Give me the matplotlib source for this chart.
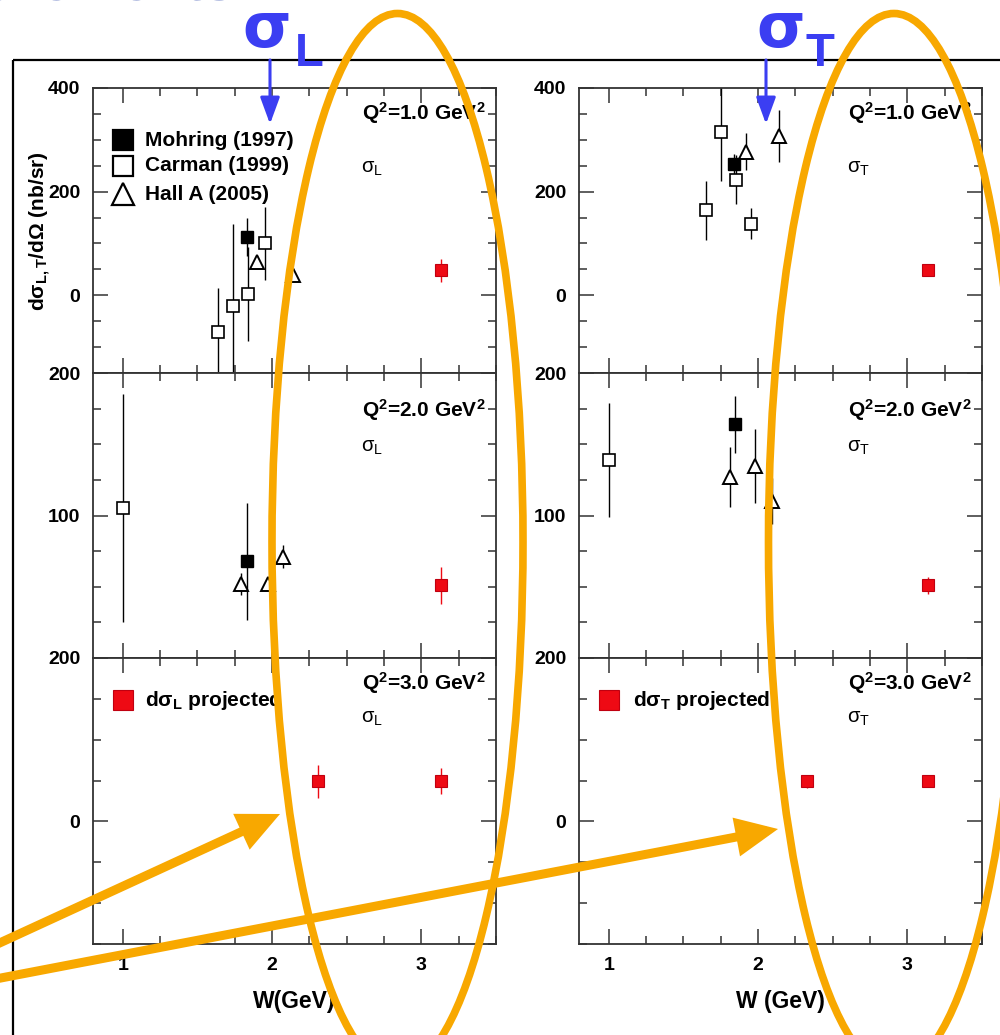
import matplotlib
matplotlib.use('Agg')
import matplotlib.pyplot as plt
from matplotlib.ticker import MultipleLocator, FuncFormatter
from matplotlib.patches import Ellipse, FancyArrowPatch, Rectangle

plt.rcParams['font.family'] = ['Liberation Sans', 'DejaVu Sans']
plt.rcParams['font.weight'] = 'bold'
plt.rcParams['mathtext.default'] = 'regular'

# ---------------- data (W in GeV, cross sections in nb/sr) ----------------
# Q^2 = 1.0 GeV^2, sigma_L
mohring_L1_W, mohring_L1, mohring_L1_err = [1.83], [112], [37]
carman_L1_W, carman_L1, carman_L1_err = [1.64, 1.74, 1.84, 1.95], [-70, -21, 2, 100], [84, 158, 91, 70]
halla_L1_W, halla_L1, halla_L1_err = [1.90, 2.14], [64, 39], [12, 8]
proj_L1_W, proj_L1, proj_L1_err = [3.13], [48], [22]
# Q^2 = 1.0 GeV^2, sigma_T
mohring_T1_W, mohring_T1, mohring_T1_err = [1.84], [253], [20]
carman_T1_W, carman_T1, carman_T1_err = [1.65, 1.75, 1.85, 1.955], [164, 315, 223, 138], [57, 95, 47, 30]
halla_T1_W, halla_T1, halla_T1_err = [1.92, 2.14], [277, 308], [36, 50]
proj_T1_W, proj_T1, proj_T1_err = [3.14], [48], [8]
# Q^2 = 2.0 GeV^2, sigma_L
mohring_L2_W, mohring_L2, mohring_L2_err = [1.83], [68], [41]
carman_L2_W, carman_L2, carman_L2_err = [1.0], [105], [80]
halla_L2_W, halla_L2, halla_L2_err = [1.79, 1.97, 2.07], [52, 52, 71], [8, 5, 8]
proj_L2_W, proj_L2, proj_L2_err = [3.13], [51], [13]
# Q^2 = 2.0 GeV^2, sigma_T
mohring_T2_W, mohring_T2, mohring_T2_err = [1.845], [164], [20]
carman_T2_W, carman_T2, carman_T2_err = [1.0], [139], [40]
halla_T2_W, halla_T2, halla_T2_err = [1.81, 1.98, 2.09], [127, 135, 110], [21, 26, 16]
proj_T2_W, proj_T2, proj_T2_err = [3.14], [51], [6]
# Q^2 = 3.0 GeV^2 (projections only)
proj_L3_W, proj_L3, proj_L3_err = [2.31, 3.13], [49, 49], [20, 16]
proj_T3_W, proj_T3, proj_T3_err = [2.33, 3.14], [49, 49], [8, 3]

q2_labels = ['1.0', '2.0', '3.0']
legend_labels = ['Mohring (1997)', 'Carman (1999)', 'Hall A (2005)']
proj_labels = [r'd$\sigma_L$ projected', r'd$\sigma_T$ projected']
xlabels = ['W(GeV)', 'W (GeV)']
ylabel = r'd$\sigma_{L,T}$/d$\Omega$ (nb/sr)'

ORANGE = '#F8A800'
BLUE = '#3b3ef2'
RED = '#ee0a14'
AXC = '#333333'

# ---------------- figure ----------------
W_PX, H_PX = 1000, 1035
fig = plt.figure(figsize=(W_PX / 100, H_PX / 100), dpi=100)
fig.patch.set_facecolor('white')

col_left = [93, 579]
col_w = 403
row_top = [88, 373, 658]
row_bot = [373, 658, 944]
ylims = [(-150, 400), (0, 200), (-150, 200)]
ymaj = [200, 100, 200]
ymin = [50, 25, 50]
ylab_shown = [{0, 200, 400}, {100, 200}, {0, 200}]
q2_base = [0.888, 0.846, 0.888]
sig_base = [0.702, 0.724, 0.774]

series = {
    (0, 0): [(mohring_L1_W, mohring_L1, mohring_L1_err), (carman_L1_W, carman_L1, carman_L1_err),
             (halla_L1_W, halla_L1, halla_L1_err), (proj_L1_W, proj_L1, proj_L1_err)],
    (0, 1): [(mohring_T1_W, mohring_T1, mohring_T1_err), (carman_T1_W, carman_T1, carman_T1_err),
             (halla_T1_W, halla_T1, halla_T1_err), (proj_T1_W, proj_T1, proj_T1_err)],
    (1, 0): [(mohring_L2_W, mohring_L2, mohring_L2_err), (carman_L2_W, carman_L2, carman_L2_err),
             (halla_L2_W, halla_L2, halla_L2_err), (proj_L2_W, proj_L2, proj_L2_err)],
    (1, 1): [(mohring_T2_W, mohring_T2, mohring_T2_err), (carman_T2_W, carman_T2, carman_T2_err),
             (halla_T2_W, halla_T2, halla_T2_err), (proj_T2_W, proj_T2, proj_T2_err)],
    (2, 0): [None, None, None, (proj_L3_W, proj_L3, proj_L3_err)],
    (2, 1): [None, None, None, (proj_T3_W, proj_T3, proj_T3_err)],
}

styles = [
    dict(marker='s', ms=9, mfc='black', mec='black', mew=1.0, ecolor='black'),
    dict(marker='s', ms=9, mfc='white', mec='black', mew=1.2, ecolor='black'),
    dict(marker='^', ms=10, mfc='white', mec='black', mew=1.4, ecolor='black'),
    dict(marker='s', ms=9, mfc=RED, mec='#c00010', mew=0.8, ecolor=RED),
]

for r in range(3):
    for c in range(2):
        left = col_left[c] / W_PX
        bottom = 1 - row_bot[r] / H_PX
        height = (row_bot[r] - row_top[r]) / H_PX
        ax = fig.add_axes([left, bottom, col_w / W_PX, height])
        for s, st in zip(series[(r, c)], styles):
            if s is None:
                continue
            x, y, e = s
            ax.errorbar(x, y, yerr=e, fmt='none', ecolor=st['ecolor'], elinewidth=1.0, capsize=0, zorder=2)
            ax.plot(x, y, linestyle='none', marker=st['marker'], ms=st['ms'], mfc=st['mfc'],
                    mec=st['mec'], mew=st['mew'], zorder=3)
        ax.set_xlim(0.8, 3.5)
        ax.set_ylim(*ylims[r])
        ax.xaxis.set_major_locator(MultipleLocator(1))
        ax.xaxis.set_minor_locator(MultipleLocator(0.25))
        ax.yaxis.set_major_locator(MultipleLocator(ymaj[r]))
        ax.yaxis.set_minor_locator(MultipleLocator(ymin[r]))
        shown = ylab_shown[r]
        ax.yaxis.set_major_formatter(FuncFormatter(lambda v, p, shown=shown: f'{v:.0f}' if round(v) in shown else ''))
        ax.tick_params(which='both', direction='in', top=True, right=True, colors=AXC,
                       labelcolor='black', labelsize=14, width=1.1)
        ax.tick_params(which='major', length=10.8, pad=9)
        ax.tick_params(which='minor', length=5.8)
        if r < 2:
            ax.tick_params(labelbottom=False)
        else:
            ax.set_xlabel(xlabels[c], fontsize=16.5, fontweight='bold', labelpad=12)
        for sp in ax.spines.values():
            sp.set_color(AXC)
            sp.set_linewidth(1.3)
        ax.text(0.667, q2_base[r], r'Q$^2$=' + q2_labels[r] + r' GeV$^2$', transform=ax.transAxes,
                fontsize=15, fontweight='bold', ha='left', va='baseline')
        ax.text(0.665, sig_base[r], r'$\sigma_L$' if c == 0 else r'$\sigma_T$', transform=ax.transAxes,
                fontsize=14.5, fontweight='normal', ha='left', va='baseline')

        # legends
        if r == 0 and c == 0:
            ys = [0.816, 0.727, 0.627]
            for yy, lab, st in zip(ys, legend_labels, styles[:3]):
                ax.plot([0.074], [yy], transform=ax.transAxes, linestyle='none', marker=st['marker'],
                        ms=14.5 if st['marker'] == 's' else 15.5, mfc=st['mfc'], mec='black', mew=1.6,
                        clip_on=False)
                ax.text(0.129, yy, lab, transform=ax.transAxes, fontsize=15, fontweight='bold',
                        ha='left', va='center')
        if r == 2:
            ax.plot([0.074], [0.853], transform=ax.transAxes, linestyle='none', marker='s', ms=14.5,
                    mfc=RED, mec='#c00010', mew=0.8, clip_on=False)
            ax.text(0.129 if c == 0 else 0.134, 0.853, proj_labels[c], transform=ax.transAxes,
                    fontsize=15, fontweight='bold', ha='left', va='center')
        ax.set_xlim(0.8, 3.5)
        ax.set_ylim(*ylims[r])

fig.text(40 / W_PX, 1 - 231 / H_PX, ylabel, rotation=90, fontsize=15, fontweight='bold',
         ha='center', va='center')

# ---------------- slide overlay (frame, highlights, arrows) ----------------
ov = fig.add_axes([0, 0, 1, 1], zorder=20)
ov.set_xlim(0, W_PX)
ov.set_ylim(H_PX, 0)
ov.axis('off')

ov.add_patch(Rectangle((13, 60), 1020, 1000, fill=False, ec='black', lw=1.6))
ov.text(235, 0, 'Measurements', fontsize=40, fontweight='bold', color='#7082c6',
        ha='right', va='baseline')

for cx, lab, sub in [(242, 'σ', 'L'), (756, 'σ', 'T')]:
    ov.text(cx, 47, lab, fontsize=45, fontweight='bold', color=BLUE, ha='left', va='baseline',
            family=['DejaVu Sans'])
    ov.text(cx + (53 if sub == 'L' else 49), 66, sub, fontsize=34, fontweight='bold', color=BLUE,
            ha='left', va='baseline')

for ax_x in [270, 766]:
    ov.add_patch(FancyArrowPatch((ax_x, 60), (ax_x, 124),
                                 arrowstyle='-|>,head_length=0.9,head_width=0.33', mutation_scale=18,
                                 lw=2.2, color=BLUE, shrinkA=0, shrinkB=0))

for cx in [397.5, 894]:
    ov.add_patch(Ellipse((cx, 542), 251, 1057, fill=False, ec=ORANGE, lw=5.5))

for p0, p1 in [((-20, 952), (280, 814)), ((-20, 982), (778, 829))]:
    ov.add_patch(FancyArrowPatch(p0, p1, arrowstyle='-|>,head_length=1.4,head_width=0.65',
                                 mutation_scale=14, lw=6.5, color=ORANGE, shrinkA=0, shrinkB=0,
                                 joinstyle='miter', capstyle='butt'))

fig.savefig('out.png', dpi=100)
